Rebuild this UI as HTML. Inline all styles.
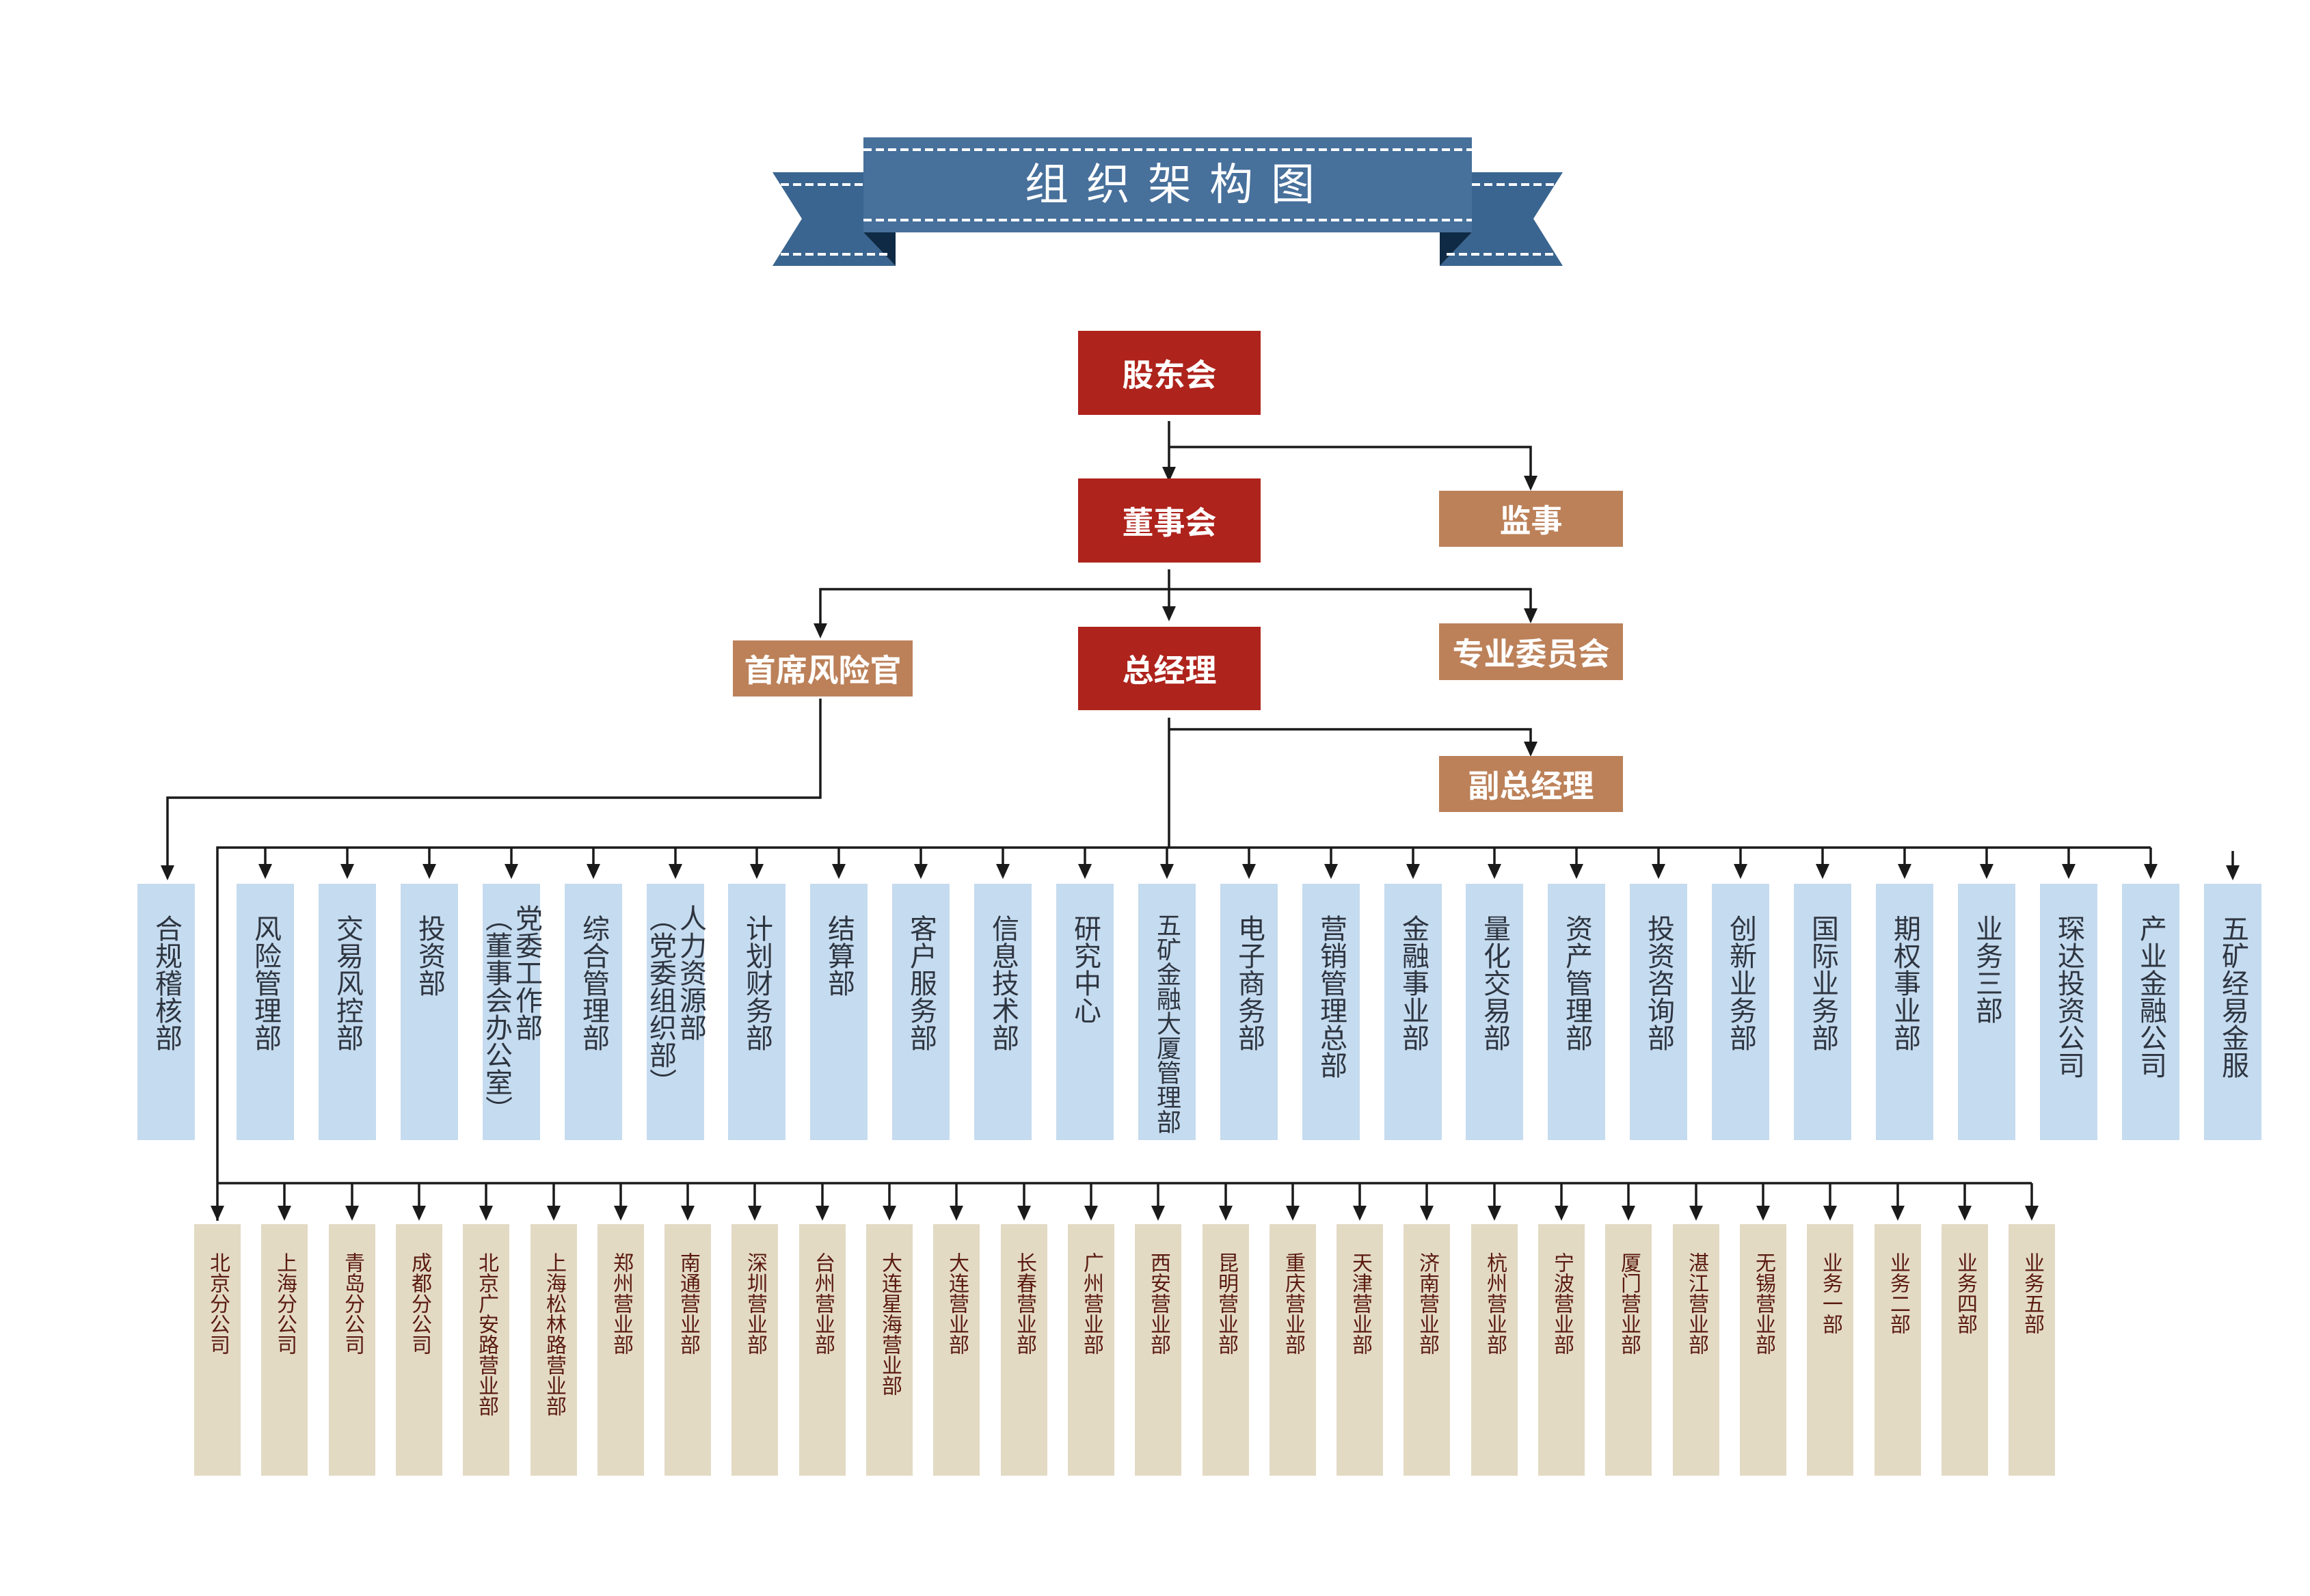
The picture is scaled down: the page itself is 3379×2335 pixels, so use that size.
<!DOCTYPE html>
<html><head><meta charset="utf-8"><style>
body{margin:0;background:#fff;width:3379px;height:2335px;position:relative;overflow:hidden;font-family:"Liberation Sans","Noto Sans CJK SC",sans-serif}
.b{position:absolute;display:flex;align-items:center;justify-content:center;color:#fff;font-weight:bold;font-size:46px}
.r{background:#ae231c}.t{background:#bc8159}
.u{position:absolute;top:1293px;width:84px;height:375px;background:#c5dbef;color:#2e3540;font-size:40px;line-height:44px;display:flex;justify-content:center}
.u span{writing-mode:vertical-rl;margin-top:45px}
.d{position:absolute;top:1791px;width:68px;height:368px;background:#e3dac4;color:#5a1a10;font-size:30px;line-height:32px;display:flex;justify-content:center}
.d span{writing-mode:vertical-rl;margin-top:41px}
</style></head><body>
<svg width="3379" height="2335" style="position:absolute;left:0;top:0">
<g>
<polygon points="1130,252 1263,252 1263,340 1310,389 1130,389 1173,320" fill="#3a6590"/>
<polygon points="1263,340 1310,340 1310,389" fill="#0e2a45"/>
<polygon points="2286,252 2153,252 2153,340 2106,389 2286,389 2243,320" fill="#3a6590"/>
<polygon points="2153,340 2106,340 2106,389" fill="#0e2a45"/>
<rect x="1263" y="201" width="890" height="139" fill="#47709b"/>
<g stroke="#fff" stroke-width="4" stroke-dasharray="12 6">
<line x1="1263" y1="219" x2="2153" y2="219"/><line x1="1263" y1="322" x2="2153" y2="322"/>
<line x1="1142" y1="270" x2="1263" y2="270"/><line x1="1142" y1="372" x2="1300" y2="372"/>
<line x1="2153" y1="270" x2="2274" y2="270"/><line x1="2116" y1="372" x2="2274" y2="372"/>
</g>
<text x="1724" y="292" fill="#fff" font-size="64" text-anchor="middle" letter-spacing="26" font-family="Liberation Sans, Noto Sans CJK SC, sans-serif">组织架构图</text>
</g>
<g stroke="#1a1a1a" stroke-width="3.5" fill="none">
<polyline points="1710,616 1710,685"/>
<polyline points="1710,654 2239,654 2239,708"/>
<polyline points="1710,833 1710,898"/>
<polyline points="1200,926 1200,862 2239,862 2239,903"/>
<polyline points="1710,1050 1710,1240"/>
<polyline points="1710,1067 2239,1067 2239,1098"/>
<polyline points="1200,1022 1200,1167 245,1167 245,1278"/>
<polyline points="318,1786 318,1240 3146,1240"/>
<polyline points="318,1731 2972,1731"/>
<polyline points="3266,1245 3266,1278"/>
</g>
<g fill="#1a1a1a">
<polygon points="1700,683 1720,683 1710,705"/>
<polygon points="2229,696 2249,696 2239,718"/>
<polygon points="1700,887 1720,887 1710,909"/>
<polygon points="1190,912 1210,912 1200,934"/>
<polygon points="2229,890 2249,890 2239,912"/>
<polygon points="2229,1085 2249,1085 2239,1107"/>
<polygon points="235,1266 255,1266 245,1288"/>
<polygon points="3256,1266 3276,1266 3266,1288"/>
</g>
<g stroke="#1a1a1a" stroke-width="3.5">
<line x1="388" y1="1240" x2="388" y2="1266"/><line x1="508" y1="1240" x2="508" y2="1266"/><line x1="628" y1="1240" x2="628" y2="1266"/><line x1="748" y1="1240" x2="748" y2="1266"/><line x1="868" y1="1240" x2="868" y2="1266"/><line x1="988" y1="1240" x2="988" y2="1266"/><line x1="1107" y1="1240" x2="1107" y2="1266"/><line x1="1227" y1="1240" x2="1227" y2="1266"/><line x1="1347" y1="1240" x2="1347" y2="1266"/><line x1="1467" y1="1240" x2="1467" y2="1266"/><line x1="1587" y1="1240" x2="1587" y2="1266"/><line x1="1707" y1="1240" x2="1707" y2="1266"/><line x1="1827" y1="1240" x2="1827" y2="1266"/><line x1="1947" y1="1240" x2="1947" y2="1266"/><line x1="2067" y1="1240" x2="2067" y2="1266"/><line x1="2186" y1="1240" x2="2186" y2="1266"/><line x1="2306" y1="1240" x2="2306" y2="1266"/><line x1="2426" y1="1240" x2="2426" y2="1266"/><line x1="2546" y1="1240" x2="2546" y2="1266"/><line x1="2666" y1="1240" x2="2666" y2="1266"/><line x1="2786" y1="1240" x2="2786" y2="1266"/><line x1="2906" y1="1240" x2="2906" y2="1266"/><line x1="3026" y1="1240" x2="3026" y2="1266"/><line x1="3146" y1="1240" x2="3146" y2="1266"/>
<line x1="416" y1="1731" x2="416" y2="1766"/><line x1="515" y1="1731" x2="515" y2="1766"/><line x1="613" y1="1731" x2="613" y2="1766"/><line x1="711" y1="1731" x2="711" y2="1766"/><line x1="810" y1="1731" x2="810" y2="1766"/><line x1="908" y1="1731" x2="908" y2="1766"/><line x1="1006" y1="1731" x2="1006" y2="1766"/><line x1="1104" y1="1731" x2="1104" y2="1766"/><line x1="1203" y1="1731" x2="1203" y2="1766"/><line x1="1301" y1="1731" x2="1301" y2="1766"/><line x1="1399" y1="1731" x2="1399" y2="1766"/><line x1="1498" y1="1731" x2="1498" y2="1766"/><line x1="1596" y1="1731" x2="1596" y2="1766"/><line x1="1694" y1="1731" x2="1694" y2="1766"/><line x1="1793" y1="1731" x2="1793" y2="1766"/><line x1="1891" y1="1731" x2="1891" y2="1766"/><line x1="1989" y1="1731" x2="1989" y2="1766"/><line x1="2087" y1="1731" x2="2087" y2="1766"/><line x1="2186" y1="1731" x2="2186" y2="1766"/><line x1="2284" y1="1731" x2="2284" y2="1766"/><line x1="2382" y1="1731" x2="2382" y2="1766"/><line x1="2481" y1="1731" x2="2481" y2="1766"/><line x1="2579" y1="1731" x2="2579" y2="1766"/><line x1="2677" y1="1731" x2="2677" y2="1766"/><line x1="2776" y1="1731" x2="2776" y2="1766"/><line x1="2874" y1="1731" x2="2874" y2="1766"/><line x1="2972" y1="1731" x2="2972" y2="1766"/>
</g>
<g fill="#1a1a1a">
<polygon points="378,1264 398,1264 388,1286"/><polygon points="498,1264 518,1264 508,1286"/><polygon points="618,1264 638,1264 628,1286"/><polygon points="738,1264 758,1264 748,1286"/><polygon points="858,1264 878,1264 868,1286"/><polygon points="978,1264 998,1264 988,1286"/><polygon points="1097,1264 1117,1264 1107,1286"/><polygon points="1217,1264 1237,1264 1227,1286"/><polygon points="1337,1264 1357,1264 1347,1286"/><polygon points="1457,1264 1477,1264 1467,1286"/><polygon points="1577,1264 1597,1264 1587,1286"/><polygon points="1697,1264 1717,1264 1707,1286"/><polygon points="1817,1264 1837,1264 1827,1286"/><polygon points="1937,1264 1957,1264 1947,1286"/><polygon points="2057,1264 2077,1264 2067,1286"/><polygon points="2176,1264 2196,1264 2186,1286"/><polygon points="2296,1264 2316,1264 2306,1286"/><polygon points="2416,1264 2436,1264 2426,1286"/><polygon points="2536,1264 2556,1264 2546,1286"/><polygon points="2656,1264 2676,1264 2666,1286"/><polygon points="2776,1264 2796,1264 2786,1286"/><polygon points="2896,1264 2916,1264 2906,1286"/><polygon points="3016,1264 3036,1264 3026,1286"/><polygon points="3136,1264 3156,1264 3146,1286"/>
<polygon points="308,1764 328,1764 318,1786"/><polygon points="406,1764 426,1764 416,1786"/><polygon points="505,1764 525,1764 515,1786"/><polygon points="603,1764 623,1764 613,1786"/><polygon points="701,1764 721,1764 711,1786"/><polygon points="800,1764 820,1764 810,1786"/><polygon points="898,1764 918,1764 908,1786"/><polygon points="996,1764 1016,1764 1006,1786"/><polygon points="1094,1764 1114,1764 1104,1786"/><polygon points="1193,1764 1213,1764 1203,1786"/><polygon points="1291,1764 1311,1764 1301,1786"/><polygon points="1389,1764 1409,1764 1399,1786"/><polygon points="1488,1764 1508,1764 1498,1786"/><polygon points="1586,1764 1606,1764 1596,1786"/><polygon points="1684,1764 1704,1764 1694,1786"/><polygon points="1783,1764 1803,1764 1793,1786"/><polygon points="1881,1764 1901,1764 1891,1786"/><polygon points="1979,1764 1999,1764 1989,1786"/><polygon points="2077,1764 2097,1764 2087,1786"/><polygon points="2176,1764 2196,1764 2186,1786"/><polygon points="2274,1764 2294,1764 2284,1786"/><polygon points="2372,1764 2392,1764 2382,1786"/><polygon points="2471,1764 2491,1764 2481,1786"/><polygon points="2569,1764 2589,1764 2579,1786"/><polygon points="2667,1764 2687,1764 2677,1786"/><polygon points="2766,1764 2786,1764 2776,1786"/><polygon points="2864,1764 2884,1764 2874,1786"/><polygon points="2962,1764 2982,1764 2972,1786"/>
</g>
</svg>
<div class="b r" style="left:1577px;top:484px;width:267px;height:123px">股东会</div>
<div class="b r" style="left:1577px;top:700px;width:267px;height:123px">董事会</div>
<div class="b r" style="left:1577px;top:917px;width:267px;height:122px">总经理</div>
<div class="b t" style="left:2105px;top:718px;width:269px;height:82px">监事</div>
<div class="b t" style="left:2105px;top:912px;width:269px;height:83px">专业委员会</div>
<div class="b t" style="left:2105px;top:1106px;width:269px;height:82px">副总经理</div>
<div class="b t" style="left:1072px;top:937px;width:263px;height:82px">首席风险官</div>
<div class="u" style="left:201px"><span>合规稽核部</span></div>
<div class="u" style="left:346px"><span>风险管理部</span></div>
<div class="u" style="left:466px"><span>交易风控部</span></div>
<div class="u" style="left:586px"><span>投资部</span></div>
<div class="u" style="left:706px"><span style="margin-top:30px">党委工作部<br>（董事会办公室）</span></div>
<div class="u" style="left:826px"><span>综合管理部</span></div>
<div class="u" style="left:946px"><span style="margin-top:30px">人力资源部<br>（党委组织部）</span></div>
<div class="u" style="left:1065px"><span>计划财务部</span></div>
<div class="u" style="left:1185px"><span>结算部</span></div>
<div class="u" style="left:1305px"><span>客户服务部</span></div>
<div class="u" style="left:1425px"><span>信息技术部</span></div>
<div class="u" style="left:1545px"><span>研究中心</span></div>
<div class="u" style="left:1665px;font-size:36px"><span style="margin-top:42px">五矿金融大厦管理部</span></div>
<div class="u" style="left:1785px"><span>电子商务部</span></div>
<div class="u" style="left:1905px"><span>营销管理总部</span></div>
<div class="u" style="left:2025px"><span>金融事业部</span></div>
<div class="u" style="left:2144px"><span>量化交易部</span></div>
<div class="u" style="left:2264px"><span>资产管理部</span></div>
<div class="u" style="left:2384px"><span>投资咨询部</span></div>
<div class="u" style="left:2504px"><span>创新业务部</span></div>
<div class="u" style="left:2624px"><span>国际业务部</span></div>
<div class="u" style="left:2744px"><span>期权事业部</span></div>
<div class="u" style="left:2864px"><span>业务三部</span></div>
<div class="u" style="left:2984px"><span>琛达投资公司</span></div>
<div class="u" style="left:3104px"><span>产业金融公司</span></div>
<div class="u" style="left:3224px"><span>五矿经易金服</span></div>
<div class="d" style="left:284px"><span>北京分公司</span></div>
<div class="d" style="left:382px"><span>上海分公司</span></div>
<div class="d" style="left:481px"><span>青岛分公司</span></div>
<div class="d" style="left:579px"><span>成都分公司</span></div>
<div class="d" style="left:677px"><span>北京广安路营业部</span></div>
<div class="d" style="left:776px"><span>上海松林路营业部</span></div>
<div class="d" style="left:874px"><span>郑州营业部</span></div>
<div class="d" style="left:972px"><span>南通营业部</span></div>
<div class="d" style="left:1070px"><span>深圳营业部</span></div>
<div class="d" style="left:1169px"><span>台州营业部</span></div>
<div class="d" style="left:1267px"><span>大连星海营业部</span></div>
<div class="d" style="left:1365px"><span>大连营业部</span></div>
<div class="d" style="left:1464px"><span>长春营业部</span></div>
<div class="d" style="left:1562px"><span>广州营业部</span></div>
<div class="d" style="left:1660px"><span>西安营业部</span></div>
<div class="d" style="left:1759px"><span>昆明营业部</span></div>
<div class="d" style="left:1857px"><span>重庆营业部</span></div>
<div class="d" style="left:1955px"><span>天津营业部</span></div>
<div class="d" style="left:2053px"><span>济南营业部</span></div>
<div class="d" style="left:2152px"><span>杭州营业部</span></div>
<div class="d" style="left:2250px"><span>宁波营业部</span></div>
<div class="d" style="left:2348px"><span>厦门营业部</span></div>
<div class="d" style="left:2447px"><span>湛江营业部</span></div>
<div class="d" style="left:2545px"><span>无锡营业部</span></div>
<div class="d" style="left:2643px"><span>业务一部</span></div>
<div class="d" style="left:2742px"><span>业务二部</span></div>
<div class="d" style="left:2840px"><span>业务四部</span></div>
<div class="d" style="left:2938px"><span>业务五部</span></div>
</body></html>
